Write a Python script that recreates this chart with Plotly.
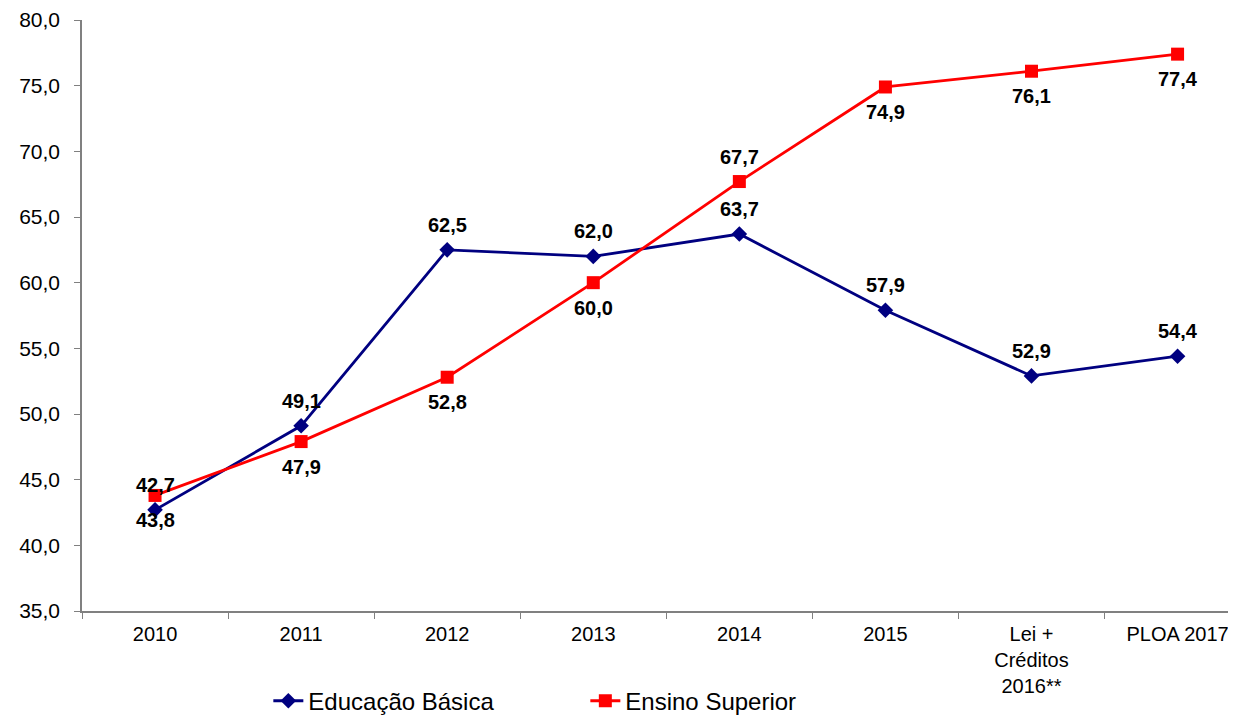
import plotly.graph_objects as go

categories = ["2010", "2011", "2012", "2013", "2014", "2015",
              "Lei +<br>Créditos<br>2016**", "PLOA 2017"]
educacao_basica = [42.7, 49.1, 62.5, 62.0, 63.7, 57.9, 52.9, 54.4]
ensino_superior = [43.8, 47.9, 52.8, 60.0, 67.7, 74.9, 76.1, 77.4]
# label above (+1) or below (-1) each point
basica_side = [1, 1, 1, 1, 1, 1, 1, 1]
superior_side = [-1, -1, -1, -1, 1, -1, -1, -1]

AXIS = "#808080"
FONT = "Liberation Sans, Arial, sans-serif"

fig = go.Figure()

fig.add_trace(go.Scatter(
    x=categories, y=educacao_basica, mode="lines+markers",
    name="Educação Básica",
    line=dict(color="#000080", width=2.8),
    marker=dict(symbol="diamond", size=12, color="#000080"),
    cliponaxis=False,
))

fig.add_trace(go.Scatter(
    x=categories, y=ensino_superior, mode="lines+markers",
    name="Ensino Superior",
    line=dict(color="#FF0000", width=2.8),
    marker=dict(symbol="square", size=13, color="#FF0000"),
    cliponaxis=False,
))

# data labels (x given as category index so "2010" is not read as a number)
for vals, sides in ((educacao_basica, basica_side), (ensino_superior, superior_side)):
    for i, (v, s) in enumerate(zip(vals, sides)):
        fig.add_annotation(
            x=i, y=v, text=f"{v:.1f}".replace(".", ","),
            showarrow=False, yshift=25 * s, yanchor="middle",
            font=dict(size=20, color="black", family=FONT, weight="bold"),
        )

# page body has an 8px margin, so the figure is 8px smaller each way
fig.update_layout(
    width=1228, height=708,
    separators=",.",
    paper_bgcolor="white", plot_bgcolor="white",
    font=dict(family=FONT, color="black", size=21),
    margin=dict(l=74, r=0, t=12, b=105),
    showlegend=True,
    legend=dict(orientation="h", xref="container", yref="container",
                x=0.212, xanchor="left", y=0.021, yanchor="middle",
                font=dict(size=24), entrywidth=272, entrywidthmode="pixels",
                tracegroupgap=0),
    xaxis=dict(
        type="category", range=[-0.5, 7.4], automargin=False,
        showline=True, linecolor=AXIS, linewidth=1.5,
        ticks="outside", tickson="boundaries", ticklen=6, tickcolor=AXIS,
        showgrid=False, zeroline=False, ticklabelstandoff=4,
        ticklabeloverflow="allow",
        tickfont=dict(size=20),
    ),
    yaxis=dict(
        range=[35, 80], dtick=5, tickformat=".1f", automargin=False,
        showline=True, linecolor=AXIS, linewidth=1.5,
        ticks="outside", ticklen=6, tickcolor=AXIS,
        showgrid=False, zeroline=False, ticklabelstandoff=10,
        ticklabeloverflow="allow",
        tickfont=dict(size=21),
    ),
)

fig.write_html("out.html")
